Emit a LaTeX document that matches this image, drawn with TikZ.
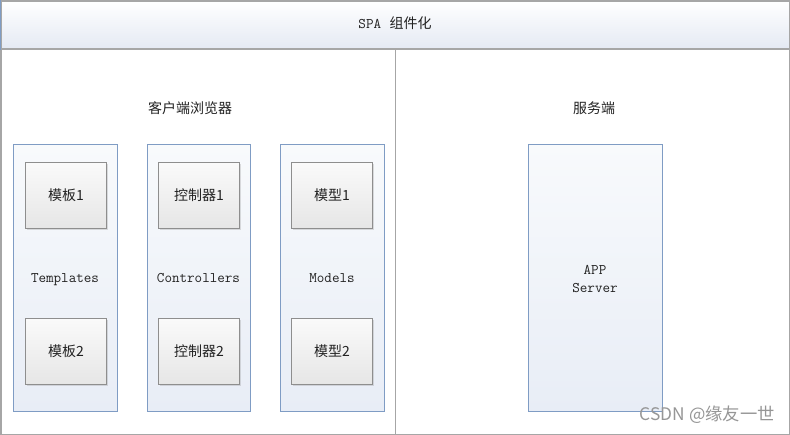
\documentclass[tikz,border=0pt]{standalone}
\usepackage{fontspec}
\newfontfamily\cjk{Noto Sans CJK SC}
\usetikzlibrary{shadows}
\definecolor{frame}{HTML}{A6A6A6}
\definecolor{bluefr}{HTML}{7F9CC4}
\definecolor{boxfr}{HTML}{8E8E8E}
\definecolor{txt}{HTML}{222222}
\tikzset{
  panel/.style={draw=frame, line width=0.9pt, fill=white, rectangle, anchor=north west, inner sep=0pt},
  titlebar/.style={draw=frame, line width=0.9pt, top color=white, bottom color={rgb,255:red,228;green,233;blue,243}, rectangle, anchor=north west, inner sep=0pt},
  holder/.style={draw=bluefr, line width=0.8pt, top color={rgb,255:red,248;green,250;blue,252}, bottom color={rgb,255:red,232;green,237;blue,246}, rectangle, anchor=north west, inner sep=0pt},
  item/.style={draw=boxfr, line width=0.8pt, top color={rgb,255:red,250;green,250;blue,250}, bottom color={rgb,255:red,230;green,230;blue,230}, rectangle, anchor=north west, inner sep=0pt, minimum width=60.75pt, minimum height=49.5pt, drop shadow={shadow xshift=0.8pt, shadow yshift=-0.8pt, opacity=0.25}},
  lbl/.style={text=txt, font=\ttfamily\fontsize{11}{13}\selectfont, inner sep=0pt, text height=7pt, text depth=0pt},
  clbl/.style={text=txt, font=\cjk\fontsize{10.5}{13}\selectfont, inner sep=0pt},
}
\begin{document}
\begin{tikzpicture}[x=0.75pt,y=-0.75pt]
\useasboundingbox (0,0) rectangle (790,435);
\fill[white] (0,0) rectangle (790,435);
% panels
\node[panel, minimum width=295.5pt, minimum height=289.5pt] (left) at (0.5,48) {};
\node[panel, minimum width=295.5pt, minimum height=289.5pt] (right) at (394.5,48) {};
\node[titlebar, minimum width=591pt, minimum height=36pt] (title) at (0.5,0.5) {};
\draw[bluefr, line width=0.9pt] (title.north west) -- (title.south west);
\node[clbl] (tt) at (395,23) {{\ttfamily\fontsize{11}{13}\selectfont SPA}\hspace{0.6em}组件化};
\node[clbl] (client) at (190,108) {客户端浏览器};
\node[clbl] (server) at (594,108) {服务端};
% holders
\node[holder, minimum width=78pt, minimum height=200pt] (tpl) at (13,144) {};
\node[holder, minimum width=77.25pt, minimum height=200pt] (ctl) at (147,144) {};
\node[holder, minimum width=78pt, minimum height=200pt] (mdl) at (280,144) {};
\node[holder, minimum width=100.5pt, minimum height=200pt] (app) at (528,144) {};
\node[lbl] (tplt) at (65,278) {Templates};
\node[lbl] (ctlt) at (198.5,278) {Controllers};
\node[lbl] (mdlt) at (332,278) {Models};
\node[text=txt, inner sep=0pt, align=center, font=\ttfamily\fontsize{11}{13.5}\selectfont] (appt) at (595,279) {APP\\Server};
% items
\node[item] (t1) at (25,162) {};
\node[clbl] at (t1.center) {模板1};
\node[item] (t2) at (25,318) {};
\node[clbl] at (t2.center) {模板2};
\node[item] (c1) at (158,162) {};
\node[clbl] at (c1.center) {控制器1};
\node[item] (c2) at (158,318) {};
\node[clbl] at (c2.center) {控制器2};
\node[item] (m1) at (291,162) {};
\node[clbl] at (m1.center) {模型1};
\node[item] (m2) at (291,318) {};
\node[clbl] at (m2.center) {模型2};
% watermark
\node[text={rgb,255:red,150;green,150;blue,150}, font=\cjk\fontsize{13}{15}\selectfont, anchor=east, inner sep=0pt] (wm) at (775,415) {CSDN @缘友一世};
\end{tikzpicture}
\end{document}
